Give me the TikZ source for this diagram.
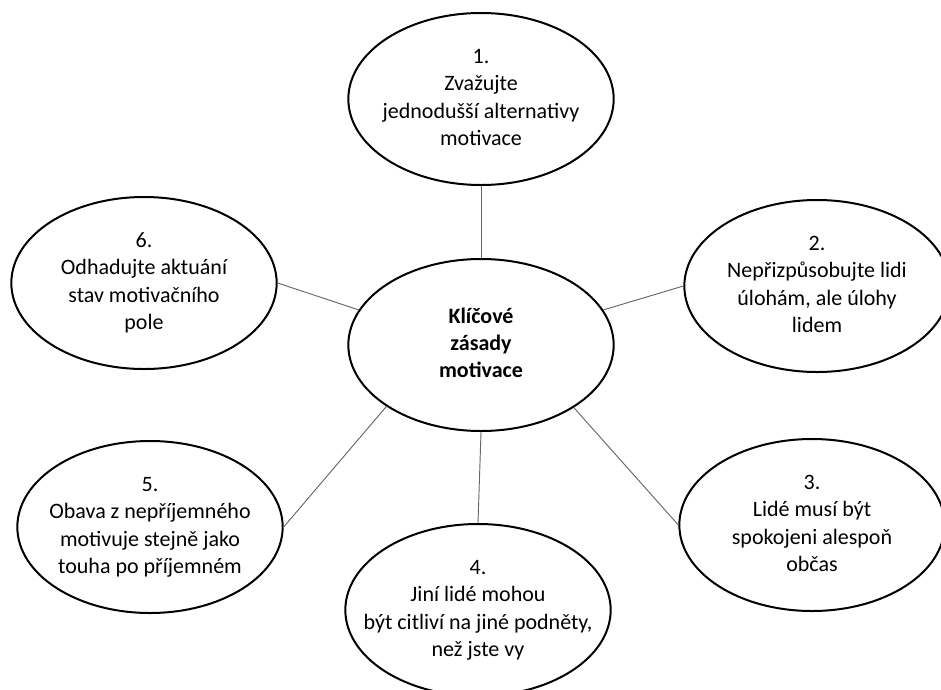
\documentclass[tikz,border=0pt]{standalone}
\usepackage{fontspec}
\setmainfont{Carlito}
\usetikzlibrary{shapes.geometric}
\newcommand{\bubtext}[1]{\makebox[0pt]{\begin{tabular}{@{}c@{}}#1\end{tabular}}}
\begin{document}
\begin{tikzpicture}[x=0.75pt,y=-0.75pt,
  bubble/.style={ellipse,draw,line width=1.5pt,minimum width=199pt,minimum height=129pt,inner sep=0pt,font=\fontsize{16.5}{20.5}\selectfont},
  spoke/.style={draw=black!60,line width=0.7pt}]
\useasboundingbox (0,0) rectangle (941,689);

\node[bubble,font=\bfseries\fontsize{16.5}{20.5}\selectfont] (c) at (481,345) {\bubtext{Klíčové\\zásady\\motivace}};

\node[bubble] (p1) at (481,99) {\bubtext{1.\\Zvažujte\\jednodušší alternativy\\motivace}};
\node[bubble] (p2) at (817,286) {\bubtext{2.\\Nepřizpůsobujte lidi\\úlohám, ale úlohy\\lidem}};
\node[bubble] (p3) at (812,525) {\bubtext{3.\\Lidé musí být\\spokojeni alespoň\\občas}};
\node[bubble] (p4) at (478,610) {\bubtext{4.\\Jiní lidé mohou\\být citliví na jiné podněty,\\než jste vy}};
\node[bubble] (p5) at (150,527) {\bubtext{5.\\Obava z nepříjemného\\motivuje stejně jako\\touha po příjemném}};
\node[bubble] (p6) at (144,283) {\bubtext{6.\\Odhadujte aktuání\\stav motivačního\\pole}};

\foreach \a/\n/\b in {90/p1/270, 16.8/p2/180, -34/p3/180, -90/p4/90, 213.7/p5/0, 164.8/p6/0}
  {\draw[spoke] (c.\a) -- (\n.\b);}
\end{tikzpicture}
\end{document}
